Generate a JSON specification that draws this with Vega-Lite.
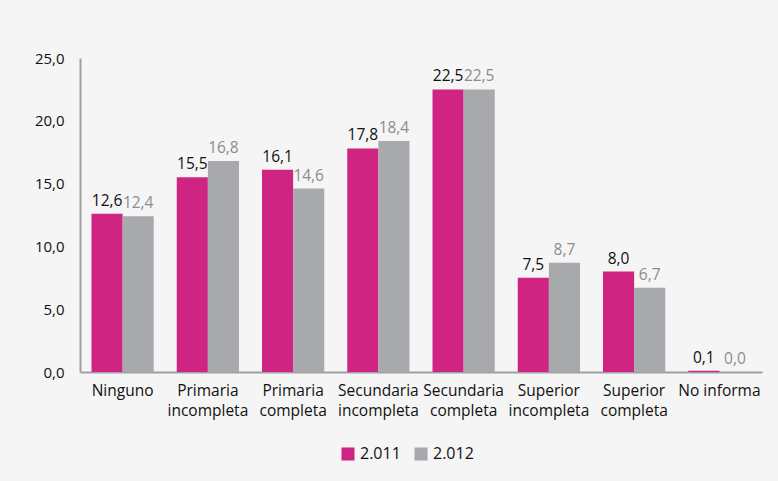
{
  "$schema": "https://vega.github.io/schema/vega-lite/v6.json",
  "width": 682,
  "height": 314,
  "autosize": {"type": "none"},
  "padding": {"left": 80, "top": 58, "right": 16, "bottom": 109},
  "background": "#f5f5f5",
  "config": {
    "view": {"stroke": null},
    "font": "Open Sans",
    "locale": {"number": {"decimal": ",", "thousands": ".", "grouping": [3], "currency": ["$", ""]}}
  },
  "data": {
    "values": [
      {"nivel": "Ninguno", "year": "2.011", "valor": 12.6},
      {"nivel": "Ninguno", "year": "2.012", "valor": 12.4},
      {"nivel": "Primaria incompleta", "year": "2.011", "valor": 15.5},
      {"nivel": "Primaria incompleta", "year": "2.012", "valor": 16.8},
      {"nivel": "Primaria completa", "year": "2.011", "valor": 16.1},
      {"nivel": "Primaria completa", "year": "2.012", "valor": 14.6},
      {"nivel": "Secundaria incompleta", "year": "2.011", "valor": 17.8},
      {"nivel": "Secundaria incompleta", "year": "2.012", "valor": 18.4},
      {"nivel": "Secundaria completa", "year": "2.011", "valor": 22.5},
      {"nivel": "Secundaria completa", "year": "2.012", "valor": 22.5},
      {"nivel": "Superior incompleta", "year": "2.011", "valor": 7.5},
      {"nivel": "Superior incompleta", "year": "2.012", "valor": 8.7},
      {"nivel": "Superior completa", "year": "2.011", "valor": 8.0},
      {"nivel": "Superior completa", "year": "2.012", "valor": 6.7},
      {"nivel": "No informa", "year": "2.011", "valor": 0.1},
      {"nivel": "No informa", "year": "2.012", "valor": 0.0}
    ]
  },
  "encoding": {
    "x": {
      "field": "nivel",
      "type": "nominal",
      "sort": null,
      "scale": {"paddingInner": 0.27, "paddingOuter": 0.135},
      "axis": {
        "title": null,
        "labelAngle": 0,
        "labelExpr": "datum.value == 'No informa' ? 'No informa' : split(datum.value, ' ')",
        "labelFontSize": 15.5,
        "labelColor": "#111",
        "labelLineHeight": 20,
        "labelPadding": 11,
        "ticks": false,
        "domainColor": "#a0a0a0",
        "domainWidth": 2
      }
    },
    "xOffset": {"field": "year", "type": "nominal"},
    "y": {
      "field": "valor",
      "type": "quantitative",
      "scale": {"domain": [0, 25]},
      "axis": {
        "title": null,
        "values": [0, 5, 10, 15, 20, 25],
        "format": ".1f",
        "grid": false,
        "ticks": false,
        "labelFontSize": 15,
        "labelColor": "#111",
        "labelPadding": 16,
        "domainColor": "#a0a0a0",
        "domainWidth": 2
      }
    }
  },
  "layer": [
    {
      "mark": {"type": "bar"},
      "encoding": {
        "color": {
          "field": "year",
          "type": "nominal",
          "scale": {"range": ["#D02483", "#A7A9AC"]},
          "legend": {
            "title": null,
            "orient": "none",
            "legendX": 260,
            "legendY": 388,
            "direction": "horizontal",
            "symbolType": "square",
            "symbolSize": 170,
            "labelFontSize": 16,
            "labelColor": "#111",
            "columnPadding": 12
          }
        }
      }
    },
    {
      "mark": {"type": "text", "baseline": "bottom", "dy": -5, "fontSize": 15.5},
      "encoding": {
        "text": {"field": "valor", "type": "quantitative", "format": ".1f"},
        "color": {"condition": {"test": "datum.year == '2.011'", "value": "#111"}, "value": "#8c8c8c"}
      }
    }
  ]
}
